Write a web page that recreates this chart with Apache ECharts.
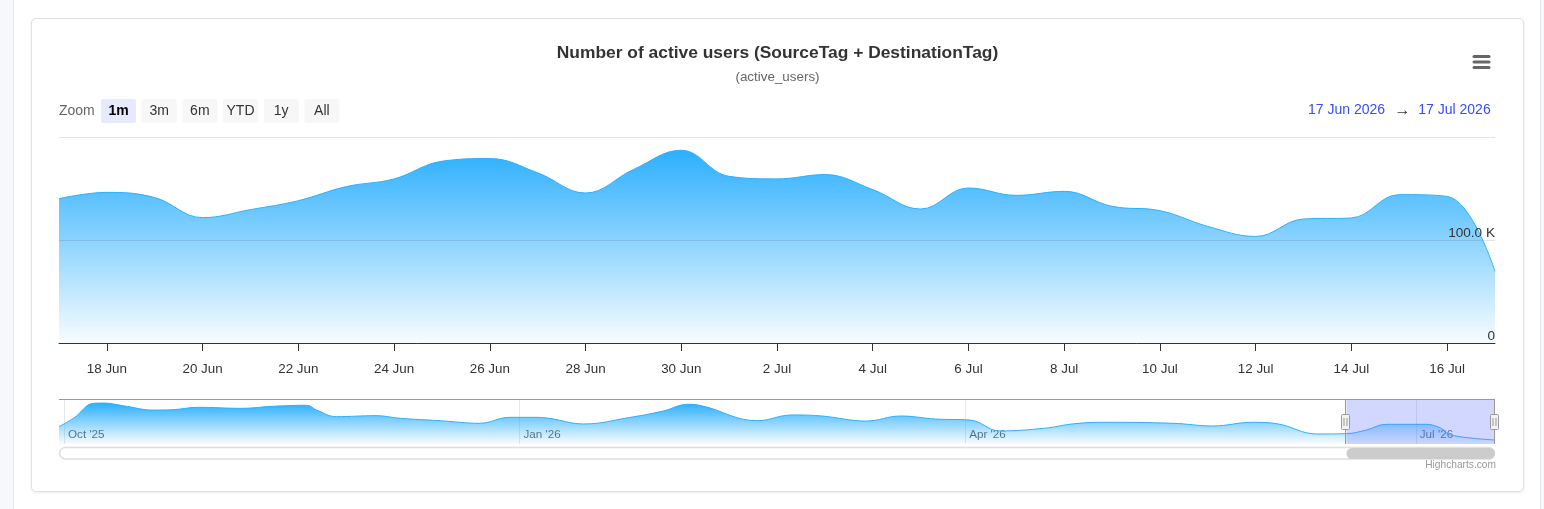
<!DOCTYPE html>
<html><head><meta charset="utf-8">
<script src="https://cdn.jsdelivr.net/npm/echarts@6/dist/echarts.min.js"></script>
<style>
html,body{margin:0;padding:0;width:1544px;height:509px;overflow:hidden;background:#f7f8fc;font-family:"Liberation Sans",Arial,sans-serif;}
#panel{position:absolute;left:13px;top:0;width:1526px;height:509px;background:#fff;border-left:1px solid #e3e6ee;border-right:1px solid #e3e6ee;}
#card{position:absolute;left:31px;top:18px;width:1491px;height:472px;background:#fff;border:1px solid #e1e1e1;border-radius:5px;box-shadow:0 1px 3px rgba(0,0,0,0.08);}
#chart{position:absolute;left:0;top:0;width:1544px;height:509px;}
</style></head><body>
<div id="panel"></div><div id="card"></div><div id="chart"></div>
<script>
// ---- data ----
const dayDates = ['2026-06-17','2026-06-18','2026-06-19','2026-06-20','2026-06-21','2026-06-22','2026-06-23','2026-06-24','2026-06-25','2026-06-26','2026-06-27','2026-06-28','2026-06-29','2026-06-30','2026-07-01','2026-07-02','2026-07-03','2026-07-04','2026-07-05','2026-07-06','2026-07-07','2026-07-08','2026-07-09','2026-07-10','2026-07-11','2026-07-12','2026-07-13','2026-07-14','2026-07-15','2026-07-16','2026-07-17'];
const activeUsersK = [140.5,146.6,141.5,122.0,129.8,138.5,152.2,159.7,176.9,179.5,165.6,146.0,168.8,187.6,162.2,159.7,163.9,149.3,130.4,150.9,143.7,147.6,133.0,128.8,113.5,103.7,120.7,121.7,144.4,142.7,69.6];
const xTickDates = ['2026-06-18','2026-06-20','2026-06-22','2026-06-24','2026-06-26','2026-06-28','2026-06-30','2026-07-02','2026-07-04','2026-07-06','2026-07-08','2026-07-10','2026-07-12','2026-07-14','2026-07-16'];
const yTicksK = [0, 100, 200];
const navDates = ['2025-09-30','2025-10-03','2025-10-07','2025-10-09','2025-10-13','2025-10-19','2025-10-23','2025-10-28','2025-11-06','2025-11-12','2025-11-19','2025-11-21','2025-11-25','2025-12-03','2025-12-08','2025-12-16','2025-12-24','2025-12-30','2026-01-04','2026-01-07','2026-01-14','2026-01-23','2026-01-30','2026-02-04','2026-02-07','2026-02-18','2026-02-25','2026-03-03','2026-03-12','2026-03-19','2026-03-26','2026-04-02','2026-04-08','2026-04-17','2026-04-23','2026-04-29','2026-05-13','2026-05-21','2026-05-29','2026-06-03','2026-06-11','2026-06-17','2026-06-21','2026-06-25','2026-07-03','2026-07-06','2026-07-08','2026-07-17'];
const navUsersK = [154,231,362,364,340,302,305,326,317,335,344,302,243,252,228,207,184,237,237,228,178,234,293,353,338,207,258,249,204,249,222,213,116,140,180,193,184,160,193,180,89,92,124,175,175,142,80,36];
const navTickDates = ['2025-10-01','2026-01-01','2026-04-01','2026-07-01'];
const navExtent = ['2025-09-30','2026-07-17'];
const selectedRange = ['2026-06-17','2026-07-17'];
const zoomButtons = ['1m','3m','6m','YTD','1y','All'];
const selectedButton = '1m';
const rangeTexts = ['17 Jun 2026','\u2192','17 Jul 2026'];
const titleText = 'Number of active users (SourceTag + DestinationTag)';
const subtitleText = '(active_users)';

// ---- helpers ----
const FONT = '"Liberation Sans", Arial, Helvetica, sans-serif';
const MONTHS = ['Jan','Feb','Mar','Apr','May','Jun','Jul','Aug','Sep','Oct','Nov','Dec'];
function ts(s){const p=s.split('-').map(Number);return Date.UTC(p[0],p[1]-1,p[2]);}
const grad = () => new echarts.graphic.LinearGradient(0,0,0,1,[{offset:0,color:'rgba(44,175,254,1)'},{offset:1,color:'rgba(44,175,254,0.03)'}]);

const chart = echarts.init(document.getElementById('chart'), null, {renderer:'canvas'});
const option = {
  animation:false,
  textStyle:{fontFamily:FONT},
  grid:[
    {left:59,right:49,top:137.5,bottom:166,outerBoundsMode:'none'},
    {left:59,right:49,top:399,bottom:65,outerBoundsMode:'none'}
  ],
  xAxis:[
    {type:'value',gridIndex:0,min:ts(dayDates[0]),max:ts(dayDates[dayDates.length-1]),z:6,
     axisLine:{show:true,onZero:false,lineStyle:{color:'#333',width:1}},
     axisTick:{show:true,length:8,lineStyle:{color:'#333'},customValues:xTickDates.map(ts)},
     axisLabel:{customValues:xTickDates.map(ts),color:'#333',fontSize:13.4,margin:20,hideOverlap:false,
       formatter:v=>{const d=new Date(v);return d.getUTCDate()+' '+MONTHS[d.getUTCMonth()];}},
     splitLine:{show:false}},
    {type:'value',gridIndex:1,min:ts(navExtent[0]),max:ts(navExtent[1]),
     axisLine:{show:false},
     axisTick:{show:false,customValues:navTickDates.map(ts)},
     axisLabel:{inside:true,customValues:navTickDates.map(ts),align:'left',verticalAlign:'bottom',margin:3,padding:[0,0,0,4],
       color:'rgba(0,0,0,0.64)',fontSize:11.7,textBorderColor:'#fff',textBorderWidth:2,hideOverlap:false,
       formatter:v=>{const d=new Date(v);return MONTHS[d.getUTCMonth()]+" '"+String(d.getUTCFullYear()).slice(2);}},
     splitLine:{show:true,lineStyle:{color:'#e6e6e6',width:1}}}
  ],
  yAxis:[
    {type:'value',gridIndex:0,position:'right',min:yTicksK[0],max:yTicksK[yTicksK.length-1],interval:yTicksK[1]-yTicksK[0],z:5,
     axisLine:{show:false},axisTick:{show:false},
     splitLine:{show:true,lineStyle:{color:'rgba(0,0,0,0.1)',width:1}},
     axisLabel:{inside:true,margin:0,color:'#333',fontSize:13.6,verticalAlign:'bottom',padding:[0,0,0,0],
       formatter:v=>v===yTicksK[yTicksK.length-1]?'':(v===0?'0':v.toFixed(1)+' K')}},
    {type:'value',gridIndex:1,min:0,max:400,show:false,splitLine:{show:false}}
  ],
  series:[
    {type:'line',xAxisIndex:0,yAxisIndex:0,data:dayDates.map((d,i)=>[ts(d),activeUsersK[i]]),
     smooth:0.4,symbol:'none',lineStyle:{color:'#2caffe',width:1},areaStyle:{color:grad(),opacity:1},z:2},
    {type:'line',xAxisIndex:1,yAxisIndex:1,data:navDates.map((d,i)=>[ts(d),navUsersK[i]]),
     smooth:0.4,symbol:'none',lineStyle:{color:'#2caffe',width:1},areaStyle:{color:grad(),opacity:1},z:2}
  ]
};
chart.setOption(option);

const pxL = chart.convertToPixel({xAxisIndex:1}, ts(selectedRange[0]));
const pxR = chart.convertToPixel({xAxisIndex:1}, ts(selectedRange[1]));
const navTop = 399, navBot = 444, plotL = 59, plotR = 1495;
const els = [];
// title
els.push({type:'text',x:777.5,y:53,style:{text:titleText,font:'bold 17.4px '+FONT,fill:'#333',textAlign:'center',textVerticalAlign:'middle',align:'center',verticalAlign:'middle'}});
els.push({type:'text',x:777.5,y:77,style:{text:subtitleText,font:'13.4px '+FONT,fill:'#666',textAlign:'center',textVerticalAlign:'middle',align:'center',verticalAlign:'middle'}});
// hamburger
[56.5,62,67.5].forEach(y=>els.push({type:'line',shape:{x1:1474,y1:y,x2:1489,y2:y},style:{stroke:'#666',lineWidth:3,lineCap:'round'}}));
// zoom label + buttons
els.push({type:'text',x:59,y:111.5,style:{text:'Zoom',font:'14px '+FONT,fill:'#666',textAlign:'left',textVerticalAlign:'middle',align:'left',verticalAlign:'middle'}});
zoomButtons.forEach((b,i)=>{
  const x = 101 + i*40.67, sel = b===selectedButton;
  els.push({type:'rect',shape:{x:x,y:99,width:35,height:24,r:2},style:{fill:sel?'#e6e9ff':'#f7f7f7'}});
  els.push({type:'text',x:x+17.5,y:111.5,style:{text:b,font:(sel?'bold ':'')+'14px '+FONT,fill:sel?'#000':'#333',textAlign:'center',textVerticalAlign:'middle',align:'center',verticalAlign:'middle'}});
});
// date range
[[1346.5,'#334eff',14],[1402.5,'#333',16],[1454.5,'#334eff',14]].forEach((c,i)=>{
  els.push({type:'text',x:c[0],y:110.5,style:{text:rangeTexts[i],font:c[2]+'px '+FONT,fill:c[1],textAlign:'center',textVerticalAlign:'middle',align:'center',verticalAlign:'middle'}});
});
// navigator mask & outline
els.push({type:'rect',z:10,shape:{x:pxL,y:navTop,width:pxR-pxL,height:navBot-navTop},style:{fill:'rgba(102,122,255,0.3)'}});
els.push({type:'line',z:11,shape:{x1:plotL,y1:navTop+0.5,x2:plotR,y2:navTop+0.5},style:{stroke:'#999',lineWidth:1}});
[pxL,pxR].forEach(x=>{
  const xx = Math.round(x)-0.5;
  els.push({type:'line',z:11,shape:{x1:xx,y1:navTop,x2:xx,y2:navBot},style:{stroke:'#999',lineWidth:1}});
});
[pxL,pxR].forEach(x=>{
  const xx = Math.round(x)-0.5;
  els.push({type:'rect',z:12,shape:{x:xx-4,y:414.5,width:8,height:15,r:1},style:{fill:'#f2f2f2',stroke:'#999',lineWidth:1}});
  els.push({type:'line',z:13,shape:{x1:xx-1.5,y1:418,x2:xx-1.5,y2:426},style:{stroke:'#999',lineWidth:1}});
  els.push({type:'line',z:13,shape:{x1:xx+1.5,y1:418,x2:xx+1.5,y2:426},style:{stroke:'#999',lineWidth:1}});
});
// scrollbar
els.push({type:'rect',shape:{x:plotL+0.5,y:447.5,width:plotR-plotL-1,height:11.5,r:5.75},style:{fill:'#fff',stroke:'#dedede',lineWidth:1.5}});
els.push({type:'rect',z:5,shape:{x:pxL,y:448,width:pxR-pxL,height:11,r:5.5},style:{fill:'#cccccc'}});
// credits
els.push({type:'text',x:1496,y:465,style:{text:'Highcharts.com',font:'10.2px '+FONT,fill:'#999',textAlign:'right',textVerticalAlign:'middle',align:'right',verticalAlign:'middle'}});
chart.setOption({graphic:{elements:els}});
</script></body></html>
